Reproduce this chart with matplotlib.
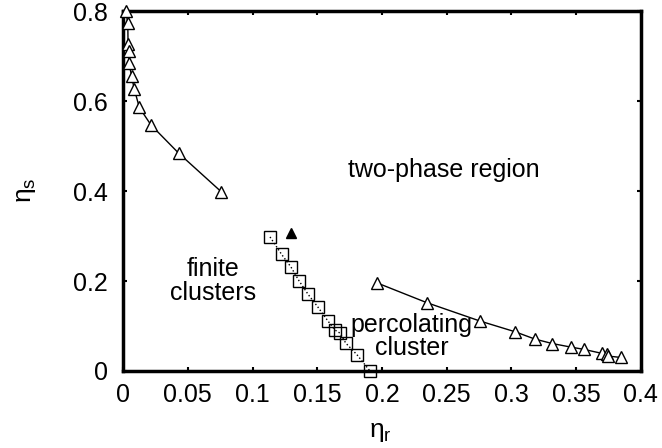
import matplotlib
matplotlib.use("Agg")
import matplotlib.pyplot as plt

plt.rcParams['font.family'] = ['Liberation Sans', 'DejaVu Sans']

# Upper-left triangle branch
tri1_x = [0.002, 0.0036, 0.0038, 0.0042, 0.0046, 0.0065, 0.0085, 0.0125, 0.0215, 0.043, 0.076]
tri1_y = [0.800, 0.774, 0.728, 0.712, 0.684, 0.656, 0.628, 0.586, 0.547, 0.484, 0.398]

# Lower-right triangle branch
tri2_x = [0.196, 0.2345, 0.2757, 0.303, 0.318, 0.3315, 0.346, 0.356, 0.370, 0.3735, 0.375, 0.3846]
tri2_y = [0.196, 0.152, 0.111, 0.087, 0.071, 0.061, 0.053, 0.048, 0.039, 0.037, 0.033, 0.030]

# Square percolation branch
sq_x = [0.1135, 0.1225, 0.1297, 0.136, 0.143, 0.1505, 0.158, 0.1637, 0.1676, 0.172, 0.1807, 0.1907]
sq_y = [0.298, 0.259, 0.231, 0.200, 0.170, 0.142, 0.112, 0.091, 0.084, 0.062, 0.036, 0.0]

# Single filled triangle
pt_x = [0.130]
pt_y = [0.307]

xticks = [0, 0.05, 0.1, 0.15, 0.2, 0.25, 0.3, 0.35, 0.4]
xticklabels = ['0', '0.05', '0.1', '0.15', '0.2', '0.25', '0.3', '0.35', '0.4']
yticks = [0, 0.2, 0.4, 0.6, 0.8]
yticklabels = ['0', '0.2', '0.4', '0.6', '0.8']

fig = plt.figure(figsize=(6.62, 4.48), dpi=100)
ax = fig.add_axes([0.186, 0.172, 0.782, 0.803])

ax.plot(tri1_x, tri1_y, '-', color='black', lw=1.0, marker='^', ms=8.5,
        mfc='white', mec='black', mew=1.0, clip_on=False, zorder=3)
ax.plot(tri2_x, tri2_y, '-', color='black', lw=1.0, marker='^', ms=8.5,
        mfc='white', mec='black', mew=1.0, clip_on=False, zorder=3)
ax.plot(sq_x, sq_y, ':', color='black', lw=1.0, marker='s', ms=8,
        mfc='none', mec='black', mew=1.0, clip_on=False, zorder=3)
ax.plot(pt_x, pt_y, linestyle='none', marker='^', ms=6.5, color='black', zorder=3)

ax.set_xlim(0, 0.4)
ax.set_ylim(0, 0.8)
ax.set_xticks(xticks)
ax.set_xticklabels(xticklabels)
ax.set_yticks(yticks)
ax.set_yticklabels(yticklabels)
ax.tick_params(direction='in', length=3, width=1.5, top=True, right=True,
               labelsize=18)
ax.tick_params(axis='x', pad=9)
ax.tick_params(axis='y', pad=11)
for s in ax.spines.values():
    s.set_linewidth(2.5)

ax.text(0.248, 0.447, 'two-phase region', fontsize=18, ha='center', va='center')
ax.text(0.0697, 0.20, 'finite\nclusters', fontsize=18, ha='center', va='center',
        linespacing=0.95)
ax.text(0.223, 0.076, 'percolating\ncluster', fontsize=18, ha='center', va='center',
        linespacing=0.95)

fig.text(380 / 662, 1 - 432 / 448, r'$\mathregular{\eta_r}$', fontsize=19,
         ha='center', va='center')
fig.text(26 / 662, 1 - 190 / 448, r'$\mathregular{\eta_s}$', fontsize=19,
         ha='center', va='center', rotation=90)

fig.savefig('out.png', dpi=100)
